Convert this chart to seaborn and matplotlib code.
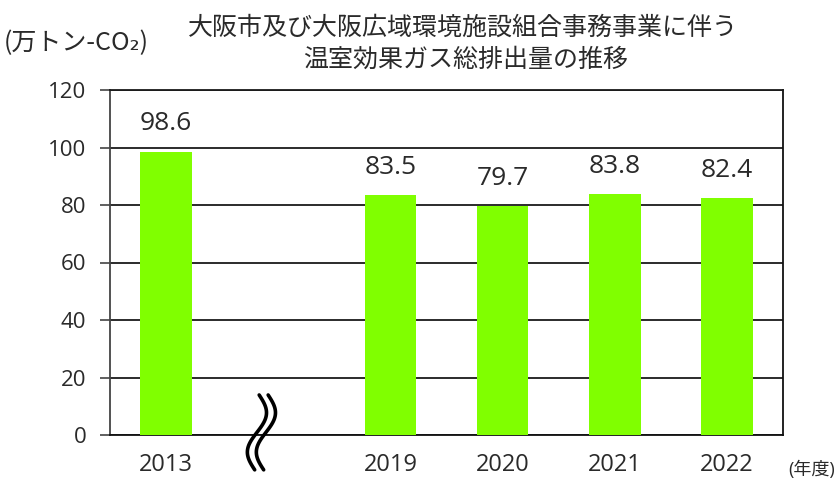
import matplotlib
matplotlib.use("Agg")
import matplotlib.pyplot as plt
import matplotlib.transforms as mtransforms
import numpy as np
import pandas as pd
import seaborn as sns

# ---- data ----
years = ["2013", "2019", "2020", "2021", "2022"]
emissions = [98.6, 83.5, 79.7, 83.8, 82.4]
category_order = ["2013", "", "2019", "2020", "2021", "2022"]
y_ticks = [0, 20, 40, 60, 80, 100, 120]
title_lines = ["大阪市及び大阪広域環境施設組合事務事業に伴う", "温室効果ガス総排出量の推移"]
y_unit = "(万トン-CO₂)"
x_unit = "(年度)"

sns.set_theme(style="white")
plt.rcParams["font.family"] = ["Open Sans", "Noto Sans CJK JP", "DejaVu Sans"]
CJK = ["Noto Sans CJK JP", "DejaVu Sans"]
MIX = ["Open Sans", "Noto Sans CJK JP", "DejaVu Sans"]

df = pd.DataFrame({"year": years, "value": emissions})

fig = plt.figure(figsize=(8.38, 4.83), dpi=100)
fig.patch.set_facecolor("white")
ax = fig.add_axes([110 / 838, 48 / 483, 673 / 838, 345 / 483])

sns.barplot(data=df, x="year", y="value", order=category_order,
            color="#80FF00", width=0.46, saturation=1, ax=ax, zorder=3,
            edgecolor="none")

ax.set_ylim(0, 120)
ax.set_xlim(-0.5, len(category_order) - 0.5)
ax.set_yticks(y_ticks)
ax.set_yticklabels([str(v) for v in y_ticks])
ax.set_xlabel("")
ax.set_ylabel("")
ax.set_axisbelow(True)
ax.yaxis.grid(True, color="#1a1a1a", lw=1.3)
ax.xaxis.grid(False)

ax.tick_params(axis="y", which="both", left=True, length=7, width=1.2,
               color="#444444", labelsize=16, pad=10, labelcolor="#2a2a2a")
ax.tick_params(axis="x", which="both", bottom=False, length=0, labelsize=17,
               pad=13, labelcolor="#2a2a2a")

for side, col in [("left", "#444444"), ("right", "#111111"),
                  ("bottom", "#111111"), ("top", "#1a1a1a")]:
    ax.spines[side].set_visible(True)
    ax.spines[side].set_color(col)
    ax.spines[side].set_linewidth(1.3)

# value labels
for patch in ax.patches:
    h = patch.get_height()
    if h is None or np.isnan(h) or h == 0:
        continue
    ax.annotate(f"{h:.1f}", (patch.get_x() + patch.get_width() / 2, h),
                xytext=(0, 11), textcoords="offset points",
                ha="center", va="bottom", fontsize=19, color="#2a2a2a")

# axis break symbol
trans = mtransforms.blended_transform_factory(ax.transData, ax.transAxes)
t = np.linspace(0, 1, 120)
ys = 0.116 - t * 0.217
for c in [0.83, 0.91]:
    xs = c + 0.075 * np.sin(2 * np.pi * t) - 0.04 * t
    ax.plot(xs, ys, color="black", lw=2.6, transform=trans, clip_on=False,
            solid_capstyle="round", zorder=5)

# titles and units
fig.text(463 / 838, 1 - 28 / 483, title_lines[0], ha="center", va="center",
         fontsize=18, family=CJK, color="#2a2a2a")
fig.text(466 / 838, 1 - 60 / 483, title_lines[1], ha="center", va="center",
         fontsize=18, family=CJK, color="#2a2a2a")
fig.text(4 / 838, 1 - 43 / 483, y_unit, ha="left", va="center",
         fontsize=18, family=CJK, color="#2a2a2a")
fig.text(835 / 838, 1 - 470 / 483, x_unit, ha="right", va="center",
         fontsize=13, family=MIX, color="#2a2a2a")

fig.savefig("out.png", dpi=100, facecolor="white")
